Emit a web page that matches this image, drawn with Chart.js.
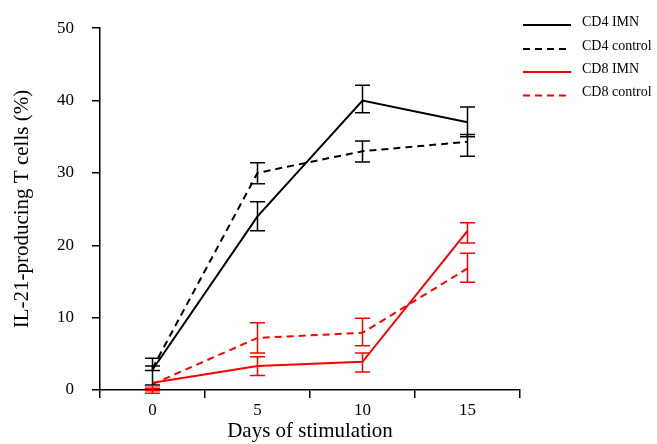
<!DOCTYPE html>
<html>
<head>
<meta charset="utf-8">
<script src="https://cdn.jsdelivr.net/npm/chart.js@4/dist/chart.umd.min.js"></script>
<style>
  html, body { margin: 0; padding: 0; background: #fff; }
  #wrap { width: 657px; height: 444px; }
</style>
</head>
<body>
<div id="wrap"><canvas id="c" width="657" height="444"></canvas></div>
<script>
// ---- data ----
const days = ['0', '5', '10', '15'];
const yTicks = [0, 10, 20, 30, 40, 50];
const seriesNames = ['CD4 IMN', 'CD4 control', 'CD8 IMN', 'CD8 control'];
const cd4Imn = [2.8, 24.0, 40.0, 37.0];
const cd4Control = [3.0, 30.0, 33.0, 34.3];
const cd8Imn = [1.0, 3.3, 3.9, 22.0];
const cd8Control = [0.8, 7.2, 7.9, 16.8];
// error bar extents [low, high]
const cd4ImnRange = [[0.7, 4.4], [22.0, 26.0], [38.3, 42.1], [35.0, 39.1]];
const cd4ControlRange = [[2.7, 3.3], [28.5, 31.4], [31.5, 34.4], [32.3, 35.3]];
const cd8ImnRange = [[-0.45, 0.6], [2.0, 4.6], [2.5, 5.1], [20.3, 23.1]];
const cd8ControlRange = [[-0.1, 0.25], [5.1, 9.3], [6.1, 9.9], [14.9, 18.9]];

const serif = "'Liberation Serif', 'Times New Roman', serif";

const errorBars = {
  id: 'errorBars',
  afterDatasetsDraw(chart) {
    const ctx = chart.ctx;
    const y = chart.scales.y;
    chart.data.datasets.forEach((ds, di) => {
      const meta = chart.getDatasetMeta(di);
      ctx.save();
      ctx.strokeStyle = ds.borderColor;
      ctx.lineWidth = 1.5;
      ctx.setLineDash([]);
      ds.ranges.forEach((r, i) => {
        const px = meta.data[i].x;
        const y0 = y.getPixelForValue(r[0]);
        const y1 = y.getPixelForValue(r[1]);
        ctx.beginPath();
        ctx.moveTo(px, y0); ctx.lineTo(px, y1);
        ctx.moveTo(px - 7.5, y0); ctx.lineTo(px + 7.5, y0);
        ctx.moveTo(px - 7.5, y1); ctx.lineTo(px + 7.5, y1);
        ctx.stroke();
      });
      ctx.restore();
    });
  }
};

const legendPlugin = {
  id: 'sideLegend',
  afterDraw(chart) {
    const ctx = chart.ctx;
    const x0 = 523, x1 = 571, tx = 582;
    const ys = [25, 49, 72, 95.5];
    chart.data.datasets.forEach((ds, i) => {
      ctx.save();
      ctx.strokeStyle = ds.borderColor;
      ctx.lineWidth = 2;
      ctx.setLineDash(ds.borderDash || []);
      ctx.beginPath();
      ctx.moveTo(x0, ys[i]); ctx.lineTo(x1, ys[i]);
      ctx.stroke();
      ctx.setLineDash([]);
      ctx.fillStyle = '#000';
      ctx.font = '14px ' + serif;
      ctx.textBaseline = 'middle';
      ctx.fillText(ds.label, tx, ys[i] - 3);
      ctx.restore();
    });
  }
};

new Chart(document.getElementById('c'), {
  type: 'line',
  data: {
    labels: days,
    datasets: [
      { label: seriesNames[0], data: cd4Imn, ranges: cd4ImnRange, borderColor: '#000000', borderWidth: 2, pointRadius: 0, tension: 0 },
      { label: seriesNames[1], data: cd4Control, ranges: cd4ControlRange, borderColor: '#000000', borderWidth: 2, borderDash: [7, 5], pointRadius: 0, tension: 0 },
      { label: seriesNames[2], data: cd8Imn, ranges: cd8ImnRange, borderColor: '#ff0000', borderWidth: 2, pointRadius: 0, tension: 0 },
      { label: seriesNames[3], data: cd8Control, ranges: cd8ControlRange, borderColor: '#ff0000', borderWidth: 2, borderDash: [7, 5], pointRadius: 0, tension: 0 }
    ]
  },
  options: {
    responsive: false,
    devicePixelRatio: 1,
    animation: false,
    layout: { padding: { top: 28, right: 137, left: 10, bottom: 0 } },
    plugins: { legend: { display: false }, tooltip: { enabled: false } },
    scales: {
      x: {
        type: 'category',
        offset: true,
        grid: { offset: true, drawOnChartArea: false, drawTicks: true, tickLength: 8, color: '#000', lineWidth: 1.5 },
        border: { display: true, color: '#000', width: 1.5 },
        ticks: { color: '#000', font: { family: serif, size: 17 }, padding: 2 },
        title: { display: true, text: 'Days of stimulation', color: '#000', font: { family: serif, size: 21 }, padding: 0 },
        afterFit(scale) { scale.height = 54; }
      },
      y: {
        min: 0, max: 50,
        afterBuildTicks(scale) { scale.ticks = yTicks.map(v => ({ value: v })); },
        grid: { drawOnChartArea: false, drawTicks: true, tickLength: 8, color: '#000', lineWidth: 1.5 },
        border: { display: true, color: '#000', width: 1.5 },
        ticks: { color: '#000', font: { family: serif, size: 17 }, padding: 18 },
        title: { display: true, text: 'IL-21-producing T cells (%)', color: '#000', font: { family: serif, size: 21 }, padding: 0 },
        afterFit(scale) { scale.width = 90; }
      }
    }
  },
  plugins: [errorBars, legendPlugin]
});
</script>
</body>
</html>
